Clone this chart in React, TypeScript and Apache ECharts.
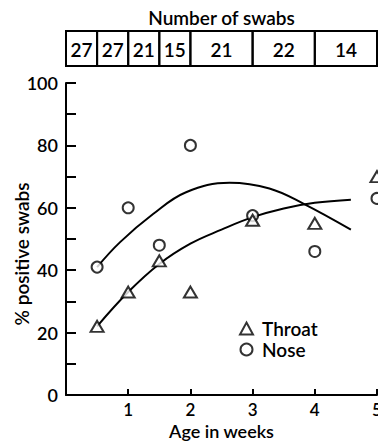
import React, { useEffect, useRef } from "react";
import * as echarts from "echarts";

// Top table: bins of age (weeks) and number of swabs in each bin
const binEdges = [0, 0.5, 1, 1.5, 2, 3, 4, 5];
const swabCounts = [27, 27, 21, 15, 21, 22, 14];

// Observed points: age (weeks) and % positive swabs
const ages = [0.5, 1, 1.5, 2, 3, 4, 5];
const throatPct = [22, 33, 43, 33, 56, 55, 70];
const nosePct = [41, 60, 48, 80, 57.5, 46, 63];

// Fitted curves
const throatCurveX = [0.5, 1, 1.5, 2, 2.5, 3, 3.5, 4, 4.58];
const throatCurveY = [22, 33, 42, 48.5, 53, 57, 59.8, 61.6, 62.6];
const noseCurveX = [0.5, 0.87, 1.4, 1.93, 2.63, 3.27, 3.83, 4.58];
const noseCurveY = [41, 49, 58, 65, 68, 66.2, 61.2, 53];

const yTicks = [0, 20, 40, 60, 80, 100];

const FONT = "Lato";
const W = 600;

export default function App() {
  const ref = useRef<HTMLDivElement>(null);
  useEffect(() => {
    if (!ref.current) return;
    const chart = echarts.init(ref.current, undefined, { renderer: "svg" });
    const tableData = swabCounts.map((c, i) => [binEdges[i], binEdges[i + 1], c]);
    const symStyle = { color: "#fff", borderColor: "#000", borderWidth: 2 };
    chart.setOption({
      animation: false,
      backgroundColor: "#fff",
      textStyle: { fontFamily: FONT, color: "#000", fontWeight: W },
      grid: [
        { left: 66, right: 1, top: 83, bottom: 50, outerBoundsMode: "none", containLabel: false },
        { left: 66, right: 1, top: 31, height: 35, outerBoundsMode: "none", containLabel: false },
      ],
      xAxis: [
        {
          gridIndex: 0,
          type: "value",
          min: 0,
          max: 5,
          interval: 1,
          name: "Age in weeks",
          nameLocation: "middle",
          nameGap: 27,
          nameMoveOverlap: false,
          nameTextStyle: { fontFamily: FONT, fontSize: 18, color: "#000", fontWeight: W },
          axisLine: { lineStyle: { color: "#000", width: 2 } },
          axisTick: { inside: true, length: 6, lineStyle: { color: "#000", width: 2 } },
          axisLabel: {
            margin: 6,
            fontFamily: FONT,
            fontSize: 17,
            fontWeight: W,
            color: "#000",
            formatter: (v: number) => (v === 0 ? "" : String(v)),
          },
          splitLine: { show: false },
        },
        {
          gridIndex: 1,
          type: "value",
          position: "top",
          min: 0,
          max: 5,
          name: "Number of swabs",
          nameLocation: "middle",
          nameGap: 4,
          nameTextStyle: { fontFamily: FONT, fontSize: 19, color: "#000", fontWeight: W },
          axisLine: { show: false },
          axisTick: { show: false },
          axisLabel: { show: false },
          splitLine: { show: false },
        },
      ],
      yAxis: [
        {
          gridIndex: 0,
          type: "value",
          min: 0,
          max: 100,
          interval: 10,
          name: "% positive swabs",
          nameLocation: "middle",
          nameGap: 35,
          nameMoveOverlap: false,
          nameTextStyle: { fontFamily: FONT, fontSize: 19, color: "#000", fontWeight: W, padding: [0, 30, 0, 0] },
          axisLine: { show: true, lineStyle: { color: "#000", width: 2 } },
          axisTick: { show: true, inside: true, length: 10, lineStyle: { color: "#000", width: 2 } },
          axisLabel: {
            margin: 8,
            fontFamily: FONT,
            fontSize: 18,
            fontWeight: W,
            color: "#000",
            formatter: (v: number) => (yTicks.indexOf(v) >= 0 ? String(v) : ""),
          },
          splitLine: { show: false },
        },
        {
          gridIndex: 1,
          type: "value",
          min: 0,
          max: 1,
          show: false,
        },
      ],
      legend: {
        orient: "vertical",
        left: 239,
        top: 319,
        padding: 0,
        itemWidth: 13,
        itemHeight: 12,
        itemGap: 2,
        data: ["Throat", "Nose"],
        textStyle: { fontFamily: FONT, fontSize: 19, color: "#000", fontWeight: W, padding: [0, 0, 0, 4] },
      },
      series: [
        {
          name: "Throat fit",
          type: "line",
          xAxisIndex: 0,
          yAxisIndex: 0,
          smooth: 0.4,
          showSymbol: false,
          symbol: "none",
          lineStyle: { color: "#000", width: 2 },
          data: throatCurveX.map((x, i) => [x, throatCurveY[i]]),
          z: 1,
        },
        {
          name: "Nose fit",
          type: "line",
          xAxisIndex: 0,
          yAxisIndex: 0,
          smooth: 0.4,
          showSymbol: false,
          symbol: "none",
          lineStyle: { color: "#000", width: 2 },
          data: noseCurveX.map((x, i) => [x, noseCurveY[i]]),
          z: 1,
        },
        {
          name: "Throat",
          type: "scatter",
          xAxisIndex: 0,
          yAxisIndex: 0,
          symbol: "triangle",
          symbolSize: [13, 11],
          itemStyle: symStyle,
          data: ages.map((a, i) => [a, throatPct[i]]),
          clip: false,
          z: 3,
        },
        {
          name: "Nose",
          type: "scatter",
          xAxisIndex: 0,
          yAxisIndex: 0,
          symbol: "circle",
          symbolSize: 11,
          itemStyle: symStyle,
          data: ages.map((a, i) => [a, nosePct[i]]),
          clip: false,
          z: 2,
        },
        {
          name: "Swabs",
          type: "custom",
          xAxisIndex: 1,
          yAxisIndex: 1,
          data: tableData,
          renderItem: (params: any, api: any) => {
            const p0 = api.coord([api.value(0), 1]);
            const p1 = api.coord([api.value(1), 0]);
            return {
              type: "group",
              children: [
                {
                  type: "rect",
                  shape: { x: p0[0], y: p0[1], width: p1[0] - p0[0], height: p1[1] - p0[1] },
                  style: { fill: "none", stroke: "#000", lineWidth: 2 },
                },
                {
                  type: "text",
                  style: {
                    text: String(api.value(2)),
                    x: (p0[0] + p1[0]) / 2,
                    y: (p0[1] + p1[1]) / 2 + 1,
                    align: "center",
                    verticalAlign: "middle",
                    font: `${W} 19px ${FONT}`,
                    fill: "#000",
                  },
                },
              ],
            };
          },
        },
      ],
    });
    return () => chart.dispose();
  }, []);
  return <div ref={ref} style={{ width: 378, height: 445, position: "absolute", left: 0, top: 0 }} />;
}
